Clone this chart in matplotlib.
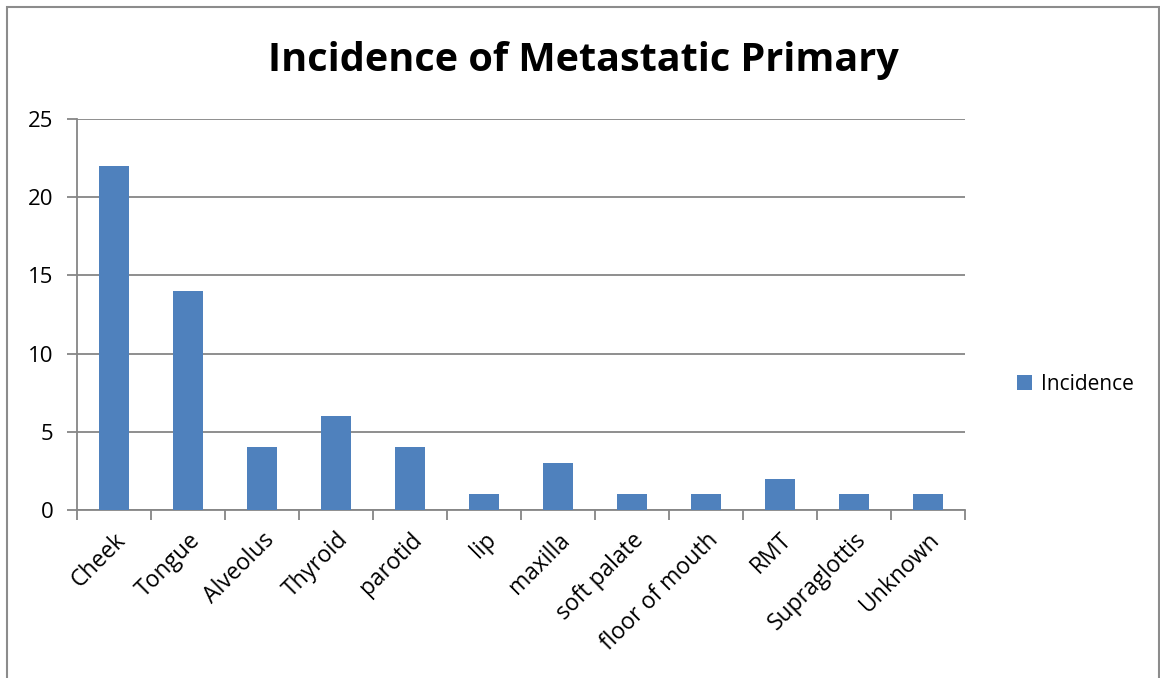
import matplotlib
matplotlib.use("Agg")
import matplotlib.pyplot as plt
from matplotlib.patches import Rectangle

categories = ["Cheek", "Tongue", "Alveolus", "Thyroid", "parotid", "lip", "maxilla",
              "soft palate", "floor of mouth", "RMT", "Supraglottis", "Unknown"]
incidence = [22, 14, 4, 6, 4, 1, 3, 1, 1, 2, 1, 1]
y_ticks = [0, 5, 10, 15, 20, 25]

plt.rcParams["font.family"] = ["Open Sans", "DejaVu Sans"]

W, H = 1160, 678
fig = plt.figure(figsize=(W / 100, H / 100), dpi=100)

# chart frame
fig.patches.append(Rectangle((7 / W, -0.01), (1159 - 7) / W, 1 - 7 / H + 0.01,
                             transform=fig.transFigure, fill=False,
                             edgecolor="#8c8c8c", linewidth=1.5))

ax = fig.add_axes([77 / W, 1 - 510 / H, (965 - 77) / W, (510 - 119) / H])
grid_c = "#868686"
x = list(range(len(categories)))
bars = ax.bar(x, incidence, width=0.4, color="#4F81BD", label="Incidence", zorder=3)

ax.set_xlim(-0.5, len(categories) - 0.5)
ax.set_ylim(0, 25)
ax.set_yticks(y_ticks)
ax.yaxis.grid(True, color=grid_c, linewidth=1.3, zorder=0)
for s in ["top", "right"]:
    ax.spines[s].set_visible(False)
for s in ["left", "bottom"]:
    ax.spines[s].set_color(grid_c)
    ax.spines[s].set_linewidth(1.3)

ax.tick_params(axis="y", length=7, width=1.3, color=grid_c, labelsize=16, pad=10)
ax.set_xticks([i - 0.5 for i in range(len(categories) + 1)], minor=False)
ax.set_xticklabels([])
ax.tick_params(axis="x", which="major", length=7, width=1.3, color=grid_c)
ax.set_xticks(x, minor=True)
ax.set_xticklabels(categories, minor=True, rotation=45, ha="right",
                   rotation_mode="anchor", fontsize=16.5)
ax.tick_params(axis="x", which="minor", length=0, pad=13)

fig.text(583 / W, 1 - 61 / H, "Incidence of Metastatic Primary", ha="center",
         va="center", fontsize=28.5, fontweight="bold")

fig.legend(handles=[bars], labels=["Incidence"], loc="center left",
           bbox_to_anchor=(998 / W, 1 - 384 / H), frameon=False, fontsize=15,
           handlelength=0.75, handleheight=0.75, handletextpad=0.4)

fig.savefig("out.png", dpi=100)
